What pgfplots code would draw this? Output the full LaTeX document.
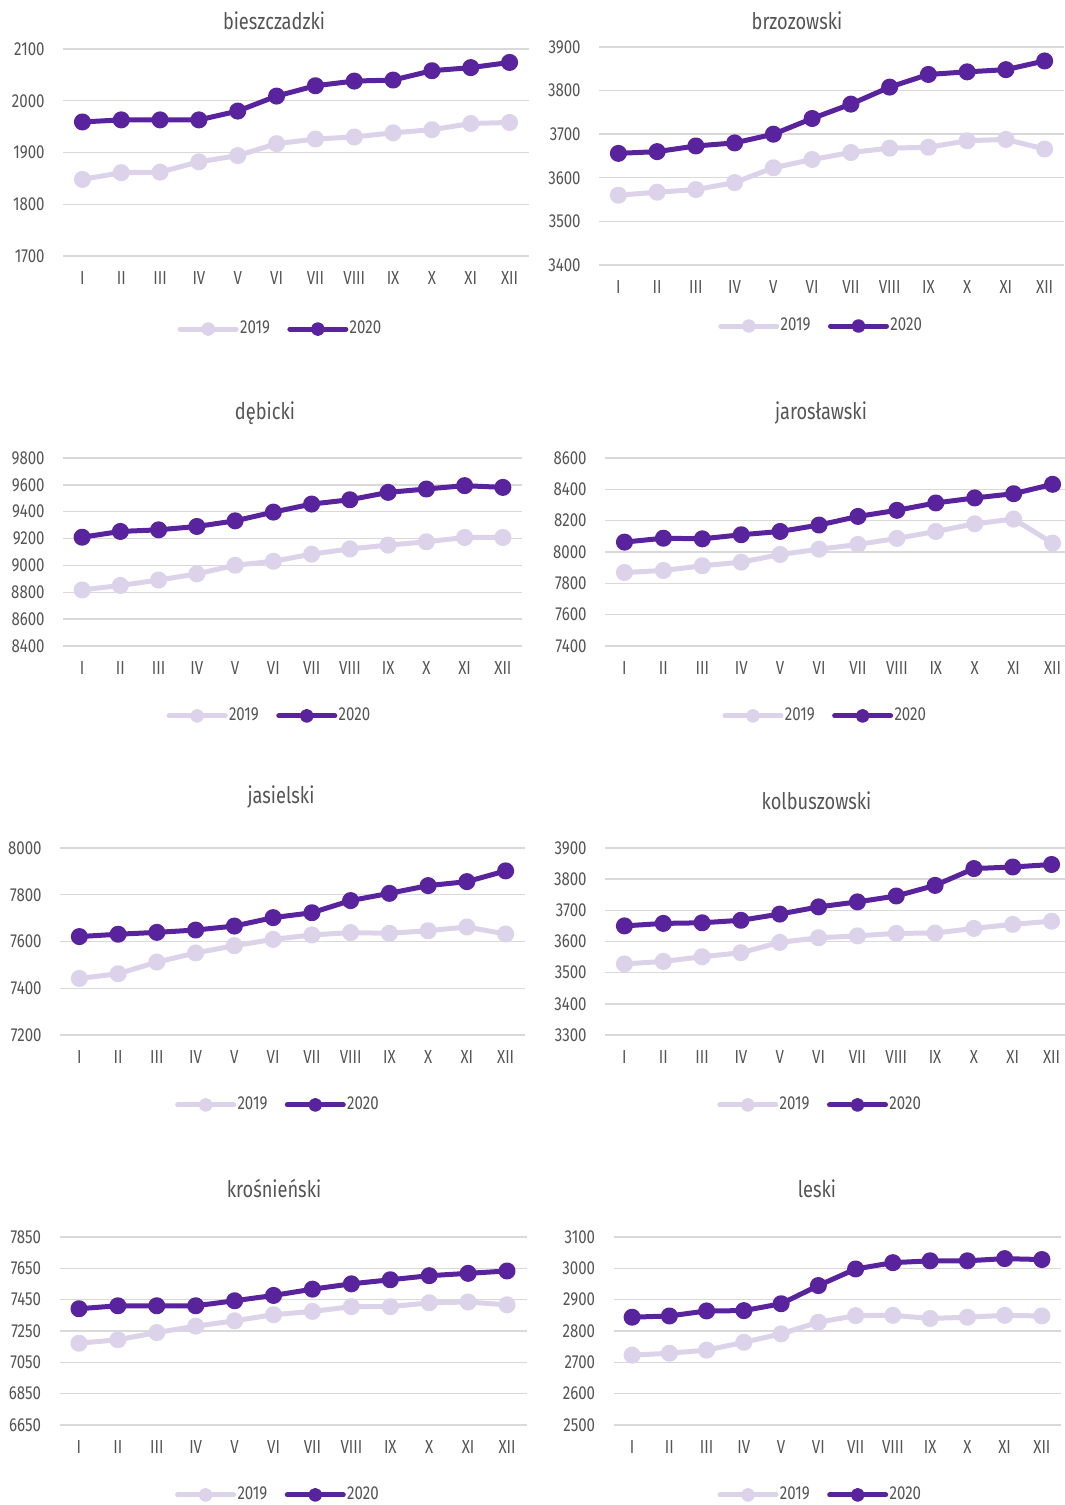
\documentclass[border=0pt]{standalone}
\usepackage{fontspec}
\setmainfont{Fira Sans}[FakeStretch=0.8]
\usepackage{pgfplots}
\usepackage{pgfplotstable}
\pgfplotsset{compat=1.18}

\definecolor{c19}{HTML}{DCD3EB}
\definecolor{c20}{HTML}{58239C}
\definecolor{gridc}{HTML}{D9D9D9}
\definecolor{txt}{HTML}{555555}

\newcommand{\tickfont}{\fontsize{9.4}{11}\selectfont}
\newcommand{\titlefont}{\fontsize{11.4}{13}\selectfont}

% monthly values, one table per powiat
\pgfplotstableread{
m y19 y20
1 1848 1959
2 1861 1963
3 1862 1963
4 1882 1963
5 1894 1980
6 1917 2009
7 1926 2029
8 1930 2038
9 1938 2040
10 1944 2058
11 1956 2064
12 1958 2074
}\bieszczadzki
\pgfplotstableread{
m y19 y20
1 3560 3656
2 3567 3660
3 3573 3673
4 3589 3680
5 3623 3700
6 3642 3736
7 3658 3769
8 3668 3808
9 3670 3837
10 3685 3843
11 3688 3848
12 3666 3868
}\brzozowski
\pgfplotstableread{
m y19 y20
1 8817 9210
2 8851 9253
3 8891 9265
4 8937 9290
5 9001 9332
6 9031 9397
7 9084 9457
8 9123 9489
9 9151 9544
10 9176 9569
11 9208 9594
12 9208 9581
}\debicki
\pgfplotstableread{
m y19 y20
1 7869 8063
2 7882 8088
3 7912 8084
4 7935 8110
5 7984 8131
6 8018 8172
7 8048 8227
8 8087 8266
9 8131 8313
10 8180 8345
11 8210 8372
12 8057 8432
}\jaroslawski
\pgfplotstableread{
m y19 y20
1 7442 7621
2 7462 7631
3 7512 7639
4 7551 7649
5 7582 7666
6 7609 7702
7 7628 7723
8 7638 7775
9 7635 7806
10 7646 7839
11 7662 7856
12 7632 7902
}\jasielski
\pgfplotstableread{
m y19 y20
1 3528 3650
2 3536 3658
3 3551 3660
4 3564 3668
5 3597 3688
6 3612 3711
7 3618 3727
8 3626 3746
9 3627 3780
10 3642 3834
11 3655 3839
12 3665 3847
}\kolbuszowski
\pgfplotstableread{
m y19 y20
1 7172 7392
2 7194 7411
3 7240 7411
4 7281 7411
5 7315 7443
6 7354 7477
7 7375 7517
8 7405 7551
9 7405 7577
10 7430 7603
11 7435 7618
12 7417 7633
}\krosnienski
\pgfplotstableread{
m y19 y20
1 2723 2844
2 2729 2848
3 2739 2864
4 2764 2865
5 2791 2887
6 2828 2945
7 2849 2998
8 2850 3018
9 2840 3024
10 2844 3024
11 2850 3031
12 2848 3028
}\leski

\pgfplotsset{
  panel/.style={
    scale only axis, anchor=south west, clip=false,
    xmin=0.5, xmax=12.5, xtick={1,...,12},
    xticklabels={I,II,III,IV,V,VI,VII,VIII,IX,X,XI,XII},
    axis line style={draw=none}, major tick length=0pt,
    ymajorgrids, grid style={gridc, line width=0.7pt},
    tick label style={font=\tickfont, text=txt, inner sep=0pt},
    xticklabel shift=7.5pt, yticklabel shift=9pt,
    /pgf/number format/1000 sep={},
    /pgf/number format/assume math mode=true,
    legend columns=2,
    legend style={draw=none, fill=none, anchor=center,
      font=\tickfont, text=txt, inner sep=0pt,
      nodes={inner sep=0.7pt},
      /tikz/every even column/.append style={column sep=8pt}},
    legend image code/.code={
      \draw[##1, mark size=2.2pt, mark repeat=2, mark phase=2]
        plot coordinates {(0pt,0pt) (14pt,0pt) (28pt,0pt)};},
  },
  s19/.style={c19, line width=2.5pt, line cap=round, line join=round,
    mark=*, mark size=3pt, mark options={solid, fill=c19}},
  s20/.style={c20, line width=2.5pt, line cap=round, line join=round,
    mark=*, mark size=3pt, mark options={solid, fill=c20}},
}

\begin{document}
\begin{tikzpicture}
\path[use as bounding box, fill=white] (0,0) rectangle (532.5pt,752.5pt);

% bieszczadzki
\begin{axis}[panel, at={(31.5pt,624.5pt)}, width=233pt, height=103.5pt,
  ymin=1700, ymax=2100, ytick={1700,1800,...,2100},
  legend style={at={(0.466,-0.353)}}]
\addplot[s19] table[x=m, y=y19] {\bieszczadzki};
\addplot[s20] table[x=m, y=y20] {\bieszczadzki};
\legend{2019,2020}
\end{axis}
\node[anchor=base, font=\titlefont, text=txt] at (137pt,737.85pt) {bieszczadzki};

% brzozowski
\begin{axis}[panel, at={(299.5pt,620pt)}, width=232.5pt, height=109pt,
  ymin=3400, ymax=3900, ytick={3400,3500,...,3900},
  legend style={at={(0.477,-0.280)}}]
\addplot[s19] table[x=m, y=y19] {\brzozowski};
\addplot[s20] table[x=m, y=y20] {\brzozowski};
\legend{2019,2020}
\end{axis}
\node[anchor=base, font=\titlefont, text=txt] at (398.5pt,737.85pt) {brzozowski};

% debicki
\begin{axis}[panel, at={(31.5pt,429.5pt)}, width=229.5pt, height=94pt,
  ymin=8400, ymax=9800, ytick={8400,8600,...,9800},
  legend style={at={(0.449,-0.372)}}]
\addplot[s19] table[x=m, y=y19] {\debicki};
\addplot[s20] table[x=m, y=y20] {\debicki};
\legend{2019,2020}
\end{axis}
\node[anchor=base, font=\titlefont, text=txt] at (132.5pt,542.85pt) {dębicki};

% jaroslawski
\begin{axis}[panel, at={(302.5pt,429.5pt)}, width=233.5pt, height=94pt,
  ymin=7400, ymax=8600, ytick={7400,7600,...,8600},
  legend style={at={(0.471,-0.372)}}]
\addplot[s19] table[x=m, y=y19] {\jaroslawski};
\addplot[s20] table[x=m, y=y20] {\jaroslawski};
\legend{2019,2020}
\end{axis}
\node[anchor=base, font=\titlefont, text=txt] at (410.5pt,542.85pt) {jarosławski};

% jasielski
\begin{axis}[panel, at={(30pt,235pt)}, width=232.5pt, height=93.5pt,
  ymin=7200, ymax=8000, ytick={7200,7400,...,8000},
  legend style={at={(0.468,-0.374)}}]
\addplot[s19] table[x=m, y=y19] {\jasielski};
\addplot[s20] table[x=m, y=y20] {\jasielski};
\legend{2019,2020}
\end{axis}
\node[anchor=base, font=\titlefont, text=txt] at (140.5pt,350.85pt) {jasielski};

% kolbuszowski
\begin{axis}[panel, at={(302.5pt,235pt)}, width=233pt, height=93.5pt,
  ymin=3300, ymax=3900, ytick={3300,3400,...,3900},
  legend style={at={(0.461,-0.374)}}]
\addplot[s19] table[x=m, y=y19] {\kolbuszowski};
\addplot[s20] table[x=m, y=y20] {\kolbuszowski};
\legend{2019,2020}
\end{axis}
\node[anchor=base, font=\titlefont, text=txt] at (408.25pt,347.85pt) {kolbuszowski};

% krosnienski
\begin{axis}[panel, at={(29.75pt,40pt)}, width=233.5pt, height=94pt,
  ymin=6650, ymax=7850, ytick={6650,6850,...,7850},
  legend style={at={(0.467,-0.372)}}]
\addplot[s19] table[x=m, y=y19] {\krosnienski};
\addplot[s20] table[x=m, y=y20] {\krosnienski};
\legend{2019,2020}
\end{axis}
\node[anchor=base, font=\titlefont, text=txt] at (137pt,153.85pt) {krośnieński};

% leski
\begin{axis}[panel, at={(306.75pt,40pt)}, width=223.5pt, height=94pt,
  ymin=2500, ymax=3100, ytick={2500,2600,...,3100},
  legend style={at={(0.462,-0.372)}}]
\addplot[s19] table[x=m, y=y19] {\leski};
\addplot[s20] table[x=m, y=y20] {\leski};
\legend{2019,2020}
\end{axis}
\node[anchor=base, font=\titlefont, text=txt] at (408.5pt,153.85pt) {leski};

\end{tikzpicture}
\end{document}
